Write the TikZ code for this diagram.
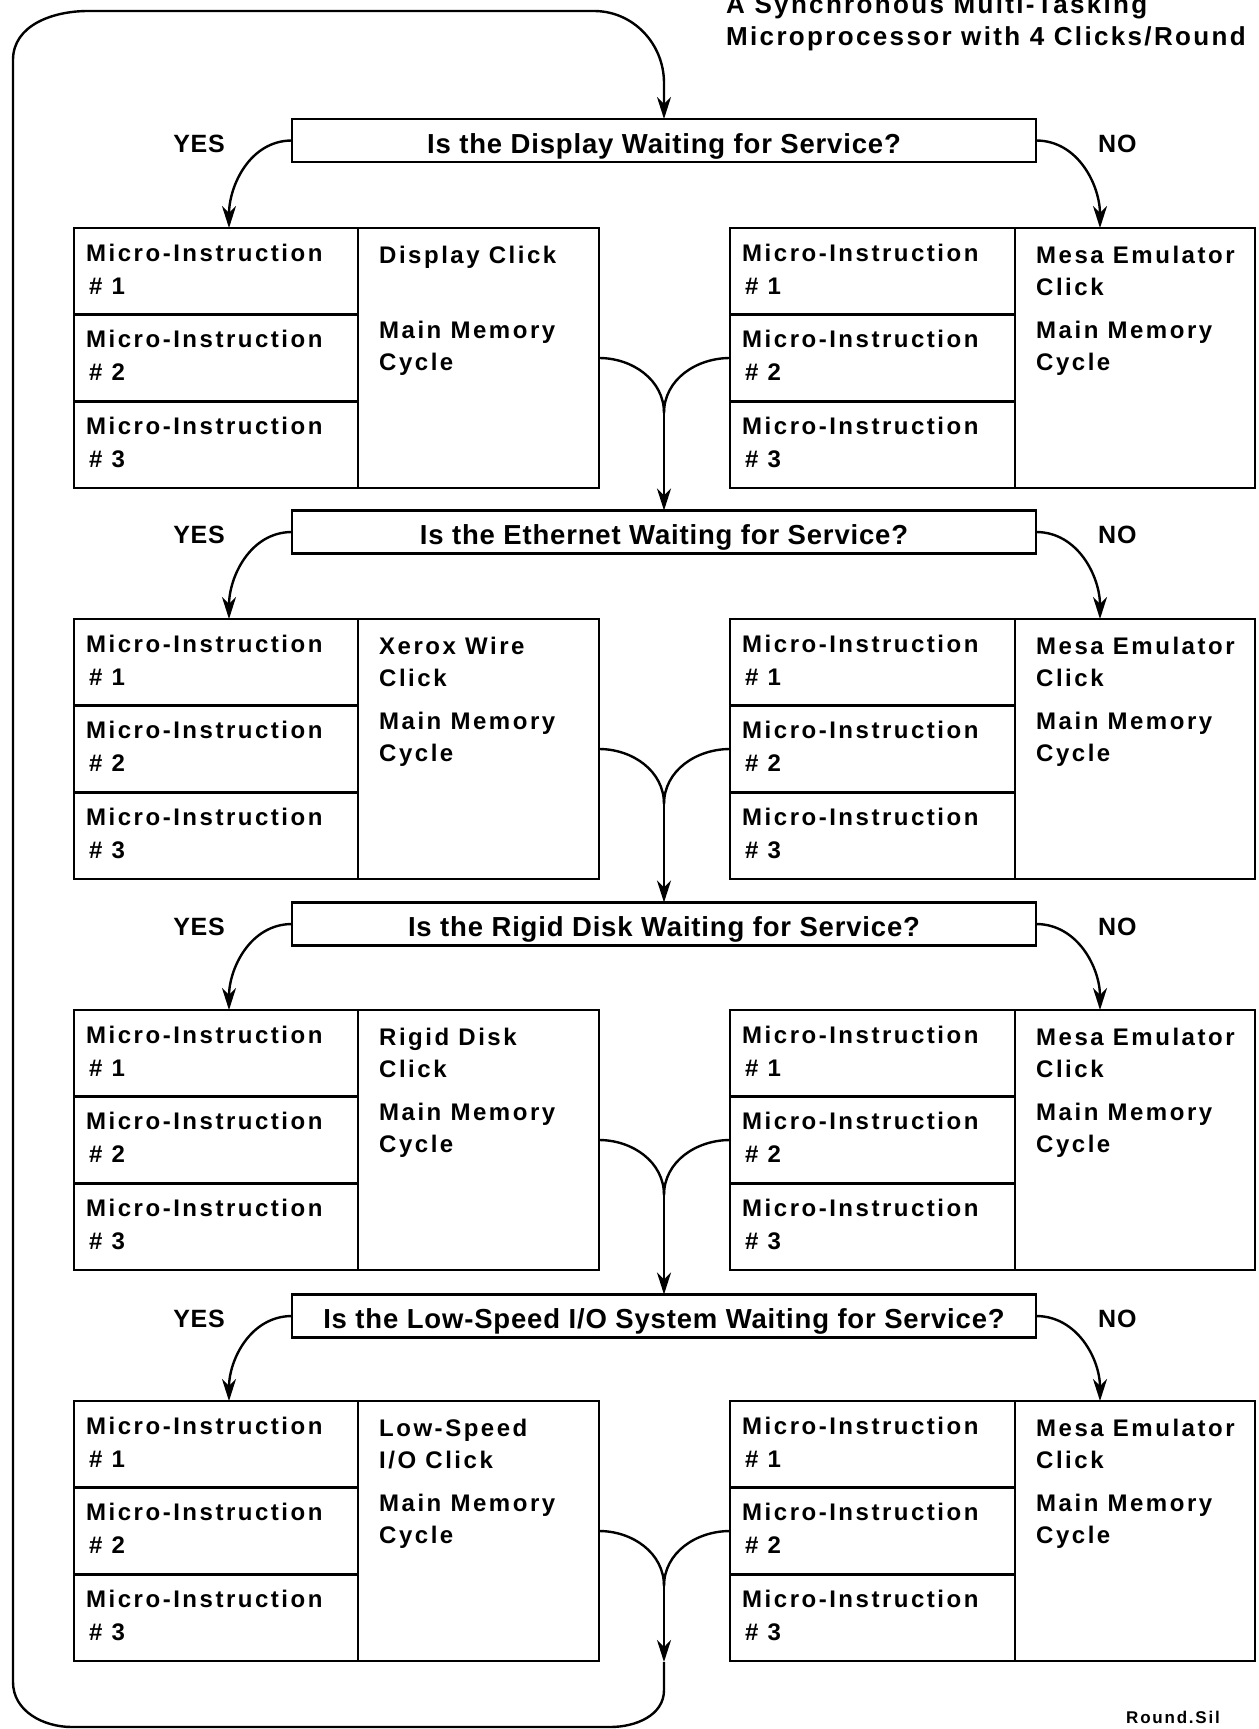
\documentclass[tikz,border=0pt]{standalone}
\usepackage{fontspec}
\setmainfont{Liberation Sans}
\newfontfamily\diafont[LetterSpace=10.5]{Liberation Sans}
\newfontfamily\qfont[LetterSpace=3]{Liberation Sans}
\newfontfamily\titlefont[LetterSpace=9]{Liberation Sans}
\usetikzlibrary{arrows.meta, calc}

\tikzset{
  frame/.style={draw, line width=2.4pt, inner sep=0pt, outer sep=0pt, anchor=north west},
  qbox/.style={draw, line width=2.4pt, inner sep=0pt, outer sep=0pt, minimum width=744, minimum height=43,
    text height=25pt, text depth=0pt, font=\qfont\bfseries\fontsize{27.5}{30}\selectfont},
  txt/.style={anchor=base west, inner sep=0pt, font=\diafont\bfseries\fontsize{24}{28}\selectfont},
  answer/.style={anchor=base west, inner sep=0pt, font=\qfont\bfseries\fontsize{25}{28}\selectfont},
  wire/.style={line width=2.4pt},
  flow/.style={wire, -{Stealth[length=22pt, width=14pt, inset=7pt]}},
}

\begin{document}
\begin{tikzpicture}[x=1pt,y=1pt]
  \path[use as bounding box] (0,0) rectangle (1258,-1729);
  \node[txt, font=\titlefont\bfseries\fontsize{26}{30}\selectfont] (title1) at (726,-13) {A Synchronous Multi-Tasking};
  \node[txt, font=\titlefont\bfseries\fontsize{26}{30}\selectfont] (title2) at (726,-45) {Microprocessor with 4 Clicks/Round};

  \foreach \k/\yq/\yb/\dev/\ta/\tb in {
      0/140.5/228/Display/Display Click/{},
      1/532/619/Ethernet/Xerox Wire/Click,
      2/924/1010/Rigid Disk/Rigid Disk/Click,
      3/1316/1401/{Low-Speed I/O System}/Low-Speed/{I/O Click}}{
    \node[qbox] (q\k) at (664,-\yq) {Is the \dev\ Waiting for Service?};
    \node[answer, anchor=base east] (yes\k) at (225,-\yq-11.5) {YES};
    \node[answer] (no\k) at (1098,-\yq-11.5) {NO};

    % left block: device click
    \foreach \r in {1,2,3}{
      \node[frame, minimum width=284, minimum height=86.67] (L\k\r) at (74,-\yb-86.67*\r+86.67) {};
      \node[txt] (L\k\r-a) at ($(L\k\r.north west)+(12,-33)$) {Micro-Instruction};
      \node[txt] (L\k\r-b) at ($(L\k\r.north west)+(15,-66)$) {\# \r};
    }
    \node[frame, minimum width=241, minimum height=260] (Lc\k) at (358,-\yb) {};
    \node[txt] (Lc\k-a) at ($(Lc\k.north west)+(21,-35)$) {\ta};
    \node[txt] (Lc\k-b) at ($(Lc\k.north west)+(21,-67)$) {\tb};
    \node[txt] (Lc\k-c) at ($(Lc\k.north west)+(21,-110)$) {Main Memory};
    \node[txt] (Lc\k-d) at ($(Lc\k.north west)+(21,-142)$) {Cycle};

    % right block: emulator click
    \foreach \r in {1,2,3}{
      \node[frame, minimum width=285, minimum height=86.67] (R\k\r) at (730,-\yb-86.67*\r+86.67) {};
      \node[txt] (R\k\r-a) at ($(R\k\r.north west)+(12,-33)$) {Micro-Instruction};
      \node[txt] (R\k\r-b) at ($(R\k\r.north west)+(15,-66)$) {\# \r};
    }
    \node[frame, minimum width=240, minimum height=260] (Rc\k) at (1015,-\yb) {};
    \node[txt] (Rc\k-a) at ($(Rc\k.north west)+(21,-35)$) {Mesa Emulator};
    \node[txt] (Rc\k-b) at ($(Rc\k.north west)+(21,-67)$) {Click};
    \node[txt] (Rc\k-c) at ($(Rc\k.north west)+(21,-110)$) {Main Memory};
    \node[txt] (Rc\k-d) at ($(Rc\k.north west)+(21,-142)$) {Cycle};

    % yes / no branches and merge
    \draw[flow] (q\k.west) to[out=180,in=90] ($(L\k1.north west)+(155,0)$);
    \draw[flow] (q\k.east) to[out=0,in=90] ($(Rc\k.north west)+(85,0)$);
    \coordinate (m\k) at (664,-\yb-185);
    \draw[wire] (Lc\k.east) to[out=0,in=90] (m\k);
    \draw[wire] (R\k2.west) to[out=180,in=90] (m\k);
  }

  \foreach \k/\n in {0/1,1/2,2/3}{
    \draw[flow] (m\k) -- (q\n.north);
  }

  % round trip back to the first question
  \coordinate (back) at (664,-1662);
  \draw[flow] (m3) -- (back);
  \draw[flow] (back) -- (664,-1690) to[out=-90,in=0] (610,-1727) -- (72,-1727)
    to[out=180,in=-90] (13,-1682) -- (13,-60) to[out=90,in=180] (88,-11) -- (594,-11)
    to[out=0,in=90] (664,-83) -- (q0.north);

  \node[txt, anchor=base east, font=\diafont\bfseries\fontsize{17}{20}\selectfont] (file) at (1220,-1723) {Round.Sil};
\end{tikzpicture}
\end{document}
